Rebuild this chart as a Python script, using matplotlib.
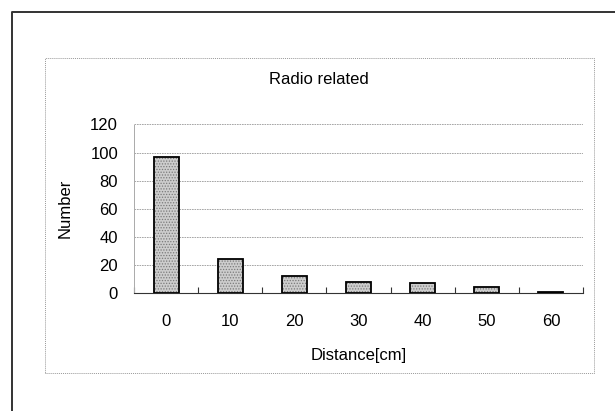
import numpy as np
import matplotlib
matplotlib.use("Agg")
import matplotlib.pyplot as plt
from matplotlib.lines import Line2D
from matplotlib.patches import Rectangle

# Data
distances = ["0", "10", "20", "30", "40", "50", "60"]
counts = [97, 24, 12, 8, 7, 4, 1]
y_ticks = [0, 20, 40, 60, 80, 100, 120]

plt.rcParams['font.family'] = ['Liberation Sans', 'DejaVu Sans']
plt.rcParams['hatch.linewidth'] = 0.6

W, H = 615, 411
fig = plt.figure(figsize=(W / 100, H / 100), dpi=100)

def fx(px):
    return px / W

def fy(py):
    return 1 - py / H

# outer page border (top and left)
fig.add_artist(Line2D([fx(12), fx(12), 1.0], [0.0, fy(12), fy(12)],
                      transform=fig.transFigure, color='#333333', lw=1.4))
# chart area frame, dotted grey
fig.add_artist(Rectangle((fx(45), fy(373)), fx(594) - fx(45), fy(58) - fy(373),
                         transform=fig.transFigure, fill=False,
                         edgecolor='#999999', lw=0.7, linestyle=(0, (1, 1))))

ax = fig.add_axes([fx(134), fy(293), fx(583) - fx(134), fy(124.5) - fy(293)])

x = np.arange(len(distances))
# stippled fill, then black outline
ax.bar(x, counts, width=0.39, color='#cdcdcd', edgecolor='#7a7a7a',
       hatch='......', lw=0, zorder=3)
ax.bar(x, counts, width=0.39, fill=False, edgecolor='black', lw=1.3, zorder=4)

ax.set_xlim(-0.5, len(distances) - 0.5)
ax.set_ylim(0, 120)
ax.set_yticks(y_ticks)
ax.set_xticks(x)
ax.set_xticklabels(distances)
ax.set_xticks(np.arange(len(distances) + 1) - 0.5, minor=True)

ax.tick_params(axis='x', which='major', length=0, pad=15, labelsize=12)
ax.tick_params(axis='x', which='minor', direction='in', length=4,
               width=0.8, color='#333333')
ax.tick_params(axis='y', length=0, pad=11.5, labelsize=12)

ax.yaxis.grid(True, color='#999999', lw=0.6, linestyle=(0, (2, 1)), zorder=1)
for s in ['top', 'right']:
    ax.spines[s].set_visible(False)
ax.spines['left'].set_color('#aaaaaa')
ax.spines['left'].set_linewidth(0.7)
ax.spines['left'].set_linestyle((0, (1, 1)))
ax.spines['bottom'].set_color('#333333')
ax.spines['bottom'].set_linewidth(0.8)

ax.set_ylabel("Number", fontsize=12)
ax.yaxis.set_label_coords((73 - 134) / 449, 0.5)
ax.set_xlabel("Distance[cm]", fontsize=12)
ax.xaxis.set_label_coords(0.5, (293 - 348) / 168.5)

fig.text(fx(319), fy(79), "Radio related", ha='center', va='center', fontsize=12)

fig.savefig("out.png", dpi=100)
